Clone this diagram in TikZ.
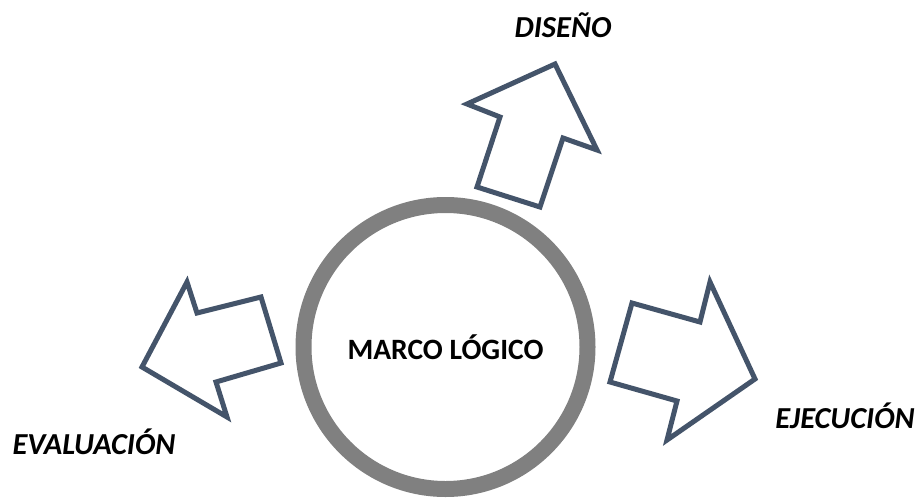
\documentclass[tikz,border=0pt]{standalone}
\usepackage{fontspec}
\setmainfont{Carlito}
\definecolor{arrowline}{HTML}{44546A}
\definecolor{ringgray}{HTML}{808080}
\begin{document}
\begin{tikzpicture}[x=1pt,y=-1pt,
  blockarrow/.style={draw=arrowline,line width=5pt,line join=miter,fill=white},
  phase/.style={font=\fontsize{30.5}{36}\selectfont\bfseries\itshape,inner sep=0pt},
  ring/.style={circle,draw=ringgray,line width=16pt,minimum size=284pt,inner sep=0pt,
    font=\fontsize{29.5}{35}\selectfont\bfseries}]
\useasboundingbox (0,0) rectangle (916,501);

% central ring
\node[ring] (core) at (445.5,347) {MARCO LÓGICO};

% upward block arrow
\draw[blockarrow] (555,64) -- (597,150) -- (563,138) -- (540,207) -- (477,187)
  -- (500,117) -- (467,104) -- cycle;
% rightward block arrow
\draw[blockarrow] (710,282) -- (755,379) -- (667,440) -- (677,401) -- (610,382)
  -- (632,303) -- (700,322) -- cycle;
% leftward block arrow
\draw[blockarrow] (142,367) -- (187,282) -- (197,313) -- (261,297) -- (281,363)
  -- (216,382) -- (227,417) -- cycle;

% phase labels
\node[phase] (dis) at (563,25) {DISEÑO};
\node[phase] (eva) at (94,442) {EVALUACIÓN};
\node[phase] (eje) at (845,416) {EJECUCIÓN};
\end{tikzpicture}
\end{document}
